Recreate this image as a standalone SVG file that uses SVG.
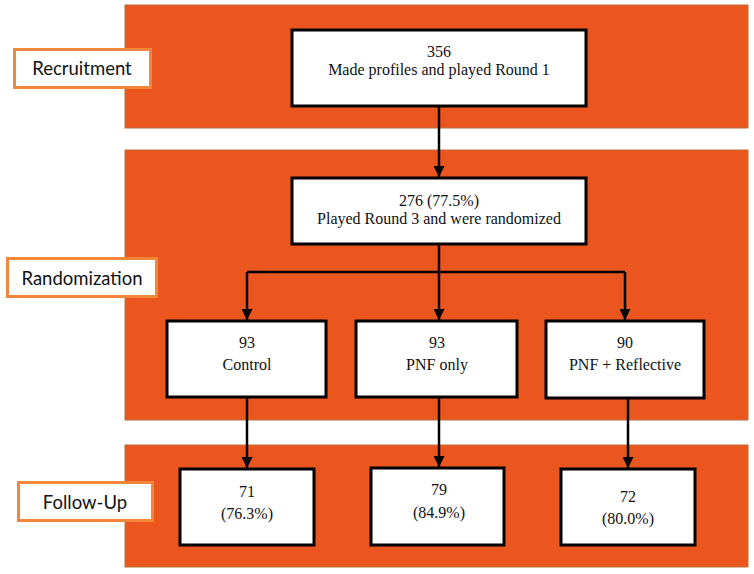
<svg xmlns="http://www.w3.org/2000/svg" width="754" height="574" viewBox="0 0 754 574">
<style>
.panel{fill:#EB561E;stroke:#B8733C;stroke-width:1}
.lbl rect{fill:#fff;stroke:#F0873A;stroke-width:3}
.lbl text{font-family:Lato,"Open Sans","Liberation Sans",sans-serif;font-size:18.5px;fill:#111;text-anchor:middle}
.box rect{fill:#fff;stroke:#000;stroke-width:3}
.box text{font-family:"Liberation Serif","Times New Roman",serif;font-size:16px;fill:#111;text-anchor:middle}
.conn path{fill:none;stroke:#000;stroke-width:2.5}
</style>
<defs>
<marker id="ah" viewBox="0 0 10 10" refX="10" refY="5" markerWidth="4.4" markerHeight="4.4" markerUnits="strokeWidth" orient="auto">
<path d="M0,0 L10,5 L0,10 Z" fill="#000"/>
</marker>
</defs>
<rect width="754" height="574" fill="#fff"/>
<g id="panels">
<rect class="panel" x="125" y="5" width="623" height="123"/>
<rect class="panel" x="125" y="150" width="623" height="270"/>
<rect class="panel" x="125" y="445" width="623" height="122"/>
</g>
<g id="label-recruitment" class="lbl"><rect x="14.5" y="49.5" width="136" height="38"/><text x="82" y="75">Recruitment</text></g>
<g id="label-randomization" class="lbl"><rect x="7.5" y="258.5" width="149" height="38"/><text x="82" y="285">Randomization</text></g>
<g id="label-followup" class="lbl"><rect x="18.5" y="482.5" width="134" height="38"/><text x="85" y="509">Follow-Up</text></g>
<g id="connectors" class="conn">
<path d="M439,106 V177" marker-end="url(#ah)"/>
<path d="M439,244 V272"/>
<path d="M247,272 H625"/>
<path d="M247,272 V320" marker-end="url(#ah)"/>
<path d="M439,272 V320" marker-end="url(#ah)"/>
<path d="M625,272 V320" marker-end="url(#ah)"/>
<path d="M247,397 V468" marker-end="url(#ah)"/>
<path d="M439,397 V467" marker-end="url(#ah)"/>
<path d="M628,398 V468" marker-end="url(#ah)"/>
</g>
<g id="n356" class="box"><rect x="292" y="30" width="294" height="76"/><text x="439" y="57">356</text><text x="439" y="75">Made profiles and played Round 1</text></g>
<g id="n276" class="box"><rect x="292" y="178" width="294" height="66"/><text x="439" y="206">276 (77.5%)</text><text x="439" y="224">Played Round 3 and were randomized</text></g>
<g id="control" class="box"><rect x="167" y="321" width="159" height="76"/><text x="247" y="348">93</text><text x="247" y="370">Control</text></g>
<g id="pnf" class="box"><rect x="356" y="321" width="161" height="76"/><text x="437" y="348">93</text><text x="437" y="370">PNF only</text></g>
<g id="pnfref" class="box"><rect x="546" y="321" width="158" height="77"/><text x="625" y="348">90</text><text x="625" y="370">PNF + Reflective</text></g>
<g id="fu-control" class="box"><rect x="180" y="469" width="134" height="76"/><text x="247" y="497">71</text><text x="247" y="519">(76.3%)</text></g>
<g id="fu-pnf" class="box"><rect x="371" y="468" width="133" height="77"/><text x="439" y="495">79</text><text x="439" y="518">(84.9%)</text></g>
<g id="fu-pnfref" class="box"><rect x="561" y="469" width="134" height="76"/><text x="628" y="502">72</text><text x="628" y="524">(80.0%)</text></g>
</svg>
